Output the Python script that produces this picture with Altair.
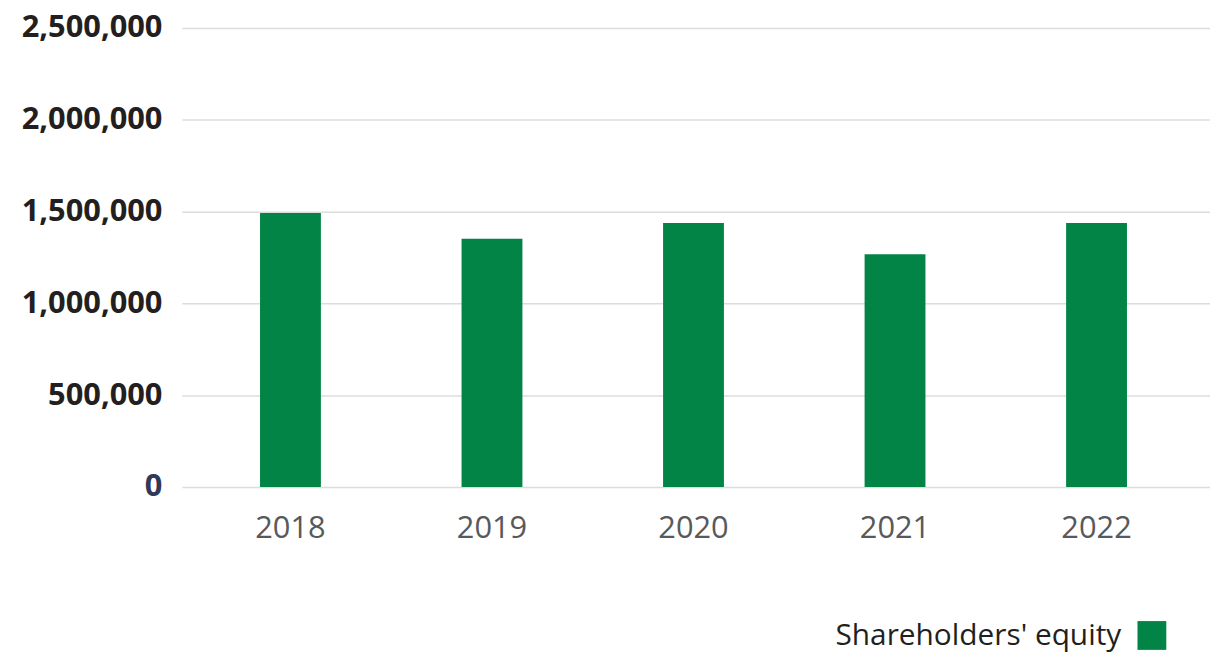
import altair as alt
import pandas as pd

years = ["2018", "2019", "2020", "2021", "2022"]
equity = [1492500, 1352000, 1438500, 1267000, 1438500]
series = ["Shareholders' equity"] * 5
y_ticks = [0, 500000, 1000000, 1500000, 2000000, 2500000]

df = pd.DataFrame({"year": years, "value": equity, "series": series})

GREEN = "#038447"
FONT = "Open Sans"

chart = alt.Chart(df).mark_bar(color=GREEN).encode(
    x=alt.X(
        "year:N",
        title=None,
        sort=years,
        scale=alt.Scale(paddingInner=0.698, paddingOuter=0.4, align=0.485),
        axis=alt.Axis(
            labelAngle=0,
            labelFont=FONT,
            labelFontSize=31,
            labelColor="#58595b",
            labelPadding=27,
            domain=False,
            ticks=False,
            grid=False,
        ),
    ),
    y=alt.Y(
        "value:Q",
        title=None,
        scale=alt.Scale(domain=[0, 2500000], nice=False),
        axis=alt.Axis(
            values=y_ticks,
            format=",d",
            labelFont=FONT,
            labelFontSize=31,
            labelFontWeight="bold",
            labelColor={"condition": {"test": "datum.value == 0", "value": "#2e3a57"}, "value": "#231f20"},
            labelPadding=20,
            domain=False,
            ticks=False,
            grid=True,
            gridColor="#dcdcdc",
            gridWidth=1.5,
        ),
    ),
    fill=alt.Fill(
        "series:N",
        scale=alt.Scale(domain=["Shareholders' equity"], range=[GREEN]),
        legend=alt.Legend(
            title="Shareholders' equity",
            titleOrient="left",
            titleFont=FONT,
            titleFontSize=30,
            titleFontWeight="normal",
            titleColor="#231f20",
            titlePadding=16,
            titleLimit=800,
            labelExpr="''",
            symbolType="square",
            symbolSize=841,
            symbolStrokeWidth=0,
            orient="none",
            legendX=658,
            legendY=597,
            padding=0,
        ),
    ),
).properties(
    width=1035,
    height=462,
    autosize=alt.AutoSizeParams(type="none"),
    padding={"left": 175, "top": 18, "right": 0, "bottom": 167},
).configure_view(stroke=None)

chart.save("out.html", embed_options={"renderer": "svg", "actions": False})
